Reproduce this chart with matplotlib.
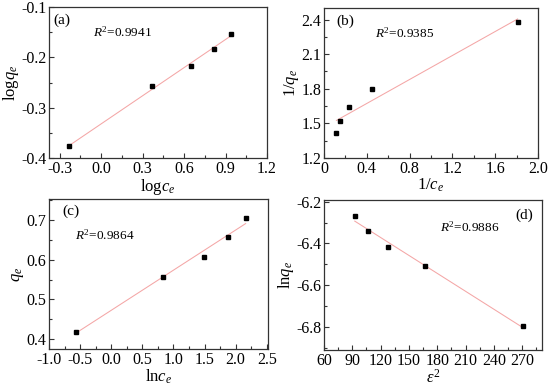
#!/usr/bin/env python3

import numpy as np
import matplotlib
matplotlib.use('Agg')
import matplotlib.pyplot as plt
from matplotlib.ticker import MultipleLocator, AutoMinorLocator, FuncFormatter


# (a) Freundlich: log ce vs log qe
a_x = [-0.232, 0.370, 0.648, 0.818, 0.939]
a_y = [-0.377, -0.256, -0.217, -0.184, -0.153]
a_r2 = '0.9941'

# (b) Langmuir: 1/ce vs 1/qe
b_x = [0.116, 0.154, 0.232, 0.449, 1.81]
b_y = [1.413, 1.521, 1.644, 1.799, 2.382]
b_r2 = '0.9385'

# (c) Temkin: ln ce vs qe
c_x = [-0.57, 0.828, 1.484, 1.876, 2.161]
c_y = [0.419, 0.556, 0.608, 0.658, 0.706]
c_r2 = '0.9864'

# (d) D-R: eps^2 vs ln qe
d_x = [92.6, 106.8, 128.1, 167.1, 270.6]
d_y = [-6.267, -6.341, -6.419, -6.509, -6.798]
d_r2 = '0.9886'


plt.rcParams['font.family'] = 'Liberation Serif'
plt.rcParams['mathtext.fontset'] = 'custom'
plt.rcParams['mathtext.rm'] = 'Liberation Serif'
plt.rcParams['mathtext.it'] = 'Liberation Serif:italic'
plt.rcParams['axes.unicode_minus'] = False

fig = plt.figure(figsize=(5.5, 3.88), dpi=100)

W, H = 550.0, 388.0


def box(left, right, top, bottom):
	return [left / W, 1 - bottom / H, (right - left) / W, (bottom - top) / H]


def panel(rect, x, y, xlim, ylim, xmaj, ymaj, xlabel, ylabel, tag, tag_pos, r2, r2_pos, xfmt, yfmt):
	ax = fig.add_axes(rect)
	ax.plot(x, y, 's', color='black', markersize=2.5, zorder=3)
	k, b = np.polyfit(x, y, 1)
	xs = np.array([min(x), max(x)])
	ax.plot(xs, k * xs + b, '-', color='#f4a6a6', linewidth=0.75)

	ax.set_xlim(*xlim)
	ax.set_ylim(*ylim)
	ax.xaxis.set_major_locator(MultipleLocator(xmaj))
	ax.yaxis.set_major_locator(MultipleLocator(ymaj))
	ax.xaxis.set_minor_locator(AutoMinorLocator(2))
	ax.yaxis.set_minor_locator(AutoMinorLocator(2))
	ax.xaxis.set_major_formatter(FuncFormatter(xfmt))
	ax.yaxis.set_major_formatter(FuncFormatter(yfmt))
	ax.tick_params(which='both', direction='in', top=False, right=False,
	               labelsize=11.5, pad=2, color='#333333')
	ax.tick_params(which='major', length=3.5, width=0.8)
	ax.tick_params(which='minor', length=2, width=0.8)
	for s in ax.spines.values():
		s.set_linewidth(0.9)
		s.set_color('#333333')

	ax.set_xlabel(xlabel, fontsize=12, labelpad=0)
	ax.set_ylabel(ylabel, fontsize=12, labelpad=0)
	ax.text(tag_pos[0], tag_pos[1], tag, transform=ax.transAxes, fontsize=11, va='center')
	ax.text(r2_pos[0], r2_pos[1], r'$R^{2}$=' + r2, transform=ax.transAxes, fontsize=9.5, va='center')
	return ax


f1 = lambda v, p: '{:.1f}'.format(v)
f0 = lambda v, p: '{:.0f}'.format(v)
fb = lambda v, p: '0' if abs(v) < 1e-9 else '{:.1f}'.format(v)

panel(box(49, 267, 7, 158), a_x, a_y, (-0.378, 1.2), (-0.4, -0.1), 0.3, 0.1,
      r'log$\mathit{c}_{e}$', r'log$\mathit{q}_{e}$',
      '(a)', (0.02, 0.91), a_r2, (0.2, 0.83), f1, f1)

panel(box(324, 538, 8, 158), b_x, b_y, (0, 2.0), (1.2, 2.5), 0.4, 0.3,
      r'1/$\mathit{c}_{e}$', r'1/$\mathit{q}_{e}$',
      '(b)', (0.06, 0.91), b_r2, (0.24, 0.83), fb, f1)

panel(box(49, 268, 199, 349), c_x, c_y, (-1.0, 2.52), (0.375, 0.753), 0.5, 0.1,
      r'ln$\mathit{c}_{e}$', r'$\mathit{q}_{e}$',
      '(c)', (0.06, 0.92), c_r2, (0.12, 0.76), f1, f1)

panel(box(324, 542, 200, 350), d_x, d_y, (60, 291), (-6.912, -6.192), 30, 0.2,
      r'$\varepsilon^{2}$', r'ln$\mathit{q}_{e}$',
      '(d)', (0.88, 0.9), d_r2, (0.53, 0.82), f0, f1)

fig.savefig('out.png', dpi=100)
